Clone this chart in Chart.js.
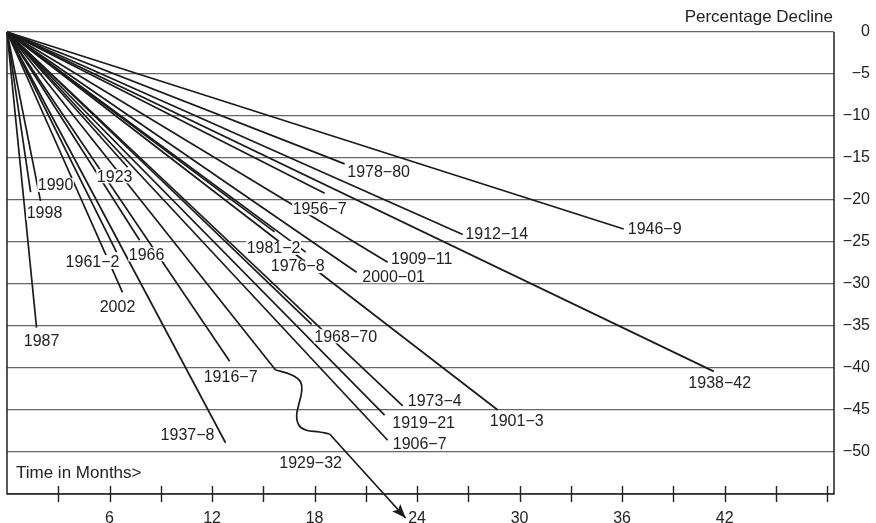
<!DOCTYPE html>
<html>
<head>
<meta charset="utf-8">
<title>Bear market declines</title>
<script src="https://cdn.jsdelivr.net/npm/chart.js@4.4.0/dist/chart.umd.min.js"></script>
<style>
  html, body { margin: 0; padding: 0; background: #fff; }
  #wrap { width: 876px; height: 523px; }
</style>
</head>
<body>
<div id="wrap"><canvas id="decline-chart" width="876" height="523"></canvas></div>
<script>
// Each decline is a straight line from the start (0 months, 0%)
// to its end point: months taken, percentage decline
const periods = ['1978−80', '1946−9', '1912−14', '1938−42', '1956−7', '1909−11',
                 '2000−01', '1981−2', '1976−8', '1901−3', '1968−70', '1973−4',
                 '1919−21', '1906−7', '1916−7', '1937−8', '1961−2', '2002',
                 '1966', '1923', '1990', '1998', '1987'];
const endMonths = [19.76, 36.09, 26.67, 41.36, 18.59, 22.28,
                   20.46, 15.66, 17.48, 28.72, 17.83, 23.16,
                   22.10, 22.28, 13.03, 12.79, 6.41, 6.76,
                   7.76, 7.06, 1.38, 1.96, 1.73];
const endDeclines = [-15.7, -23.45, -24.1, -40.4, -19.2, -27.4,
                     -28.6, -23.8, -26.2, -45.0, -34.8, -44.5,
                     -45.6, -48.6, -39.2, -48.9, -26.2, -31.0,
                     -24.8, -16.1, -19.05, -20.1, -35.2];

// 1929-32 goes off the bottom of the chart: straight, a squiggle, then an arrow
const crashName = '1929−32';
const crashMonths = [0, 15.72, 16.66, 17.18, 17.24, 17.07, 16.95, 17.07, 17.48, 18.30, 18.88, 23.33];
const crashDeclines = [0, -40.24, -40.83, -41.67, -42.86, -44.40, -45.71, -46.79, -47.38, -47.62, -47.86, -57.86];

// axis ticks
const yTicks = [0, -5, -10, -15, -20, -25, -30, -35, -40, -45, -50];
const xTickMonths = [3, 6, 9, 12, 15, 18, 21, 24, 27, 30, 33, 36, 39, 42, 45, 48];
const xLabelMonths = [6, 12, 18, 24, 30, 36, 42];

// where each label sits, from its line end (px)
const labelOffsets = [[34, 8], [31, 0], [34, -1], [6, 11], [-5, 15], [34, -4],
                      [37, 4], [-1, 16], [-8, 14], [19, 11], [34, 12], [32, -5],
                      [39, 8], [32, 3], [1, 15], [-38, -8], [-24, 10], [-5, 14],
                      [7, 14], [-13, 9], [25, -7], [4, 12], [5, 13]];
const crashLabelOffset = [-19, 29];

const LINE = '#1a1a1a';
const FAMILY = '"Liberation Sans", Arial, sans-serif';
const LABEL_FONT = '16px ' + FAMILY;
const CAPTION_FONT = '17px ' + FAMILY;

function pathOf(months, declines, from, to) {
  const pts = [];
  for (let i = from; i <= to; i++) pts.push({x: months[i], y: declines[i]});
  return pts;
}

const datasets = periods.map((name, i) => ({
  label: name,
  data: [{x: 0, y: 0}, {x: endMonths[i], y: endDeclines[i]}],
  borderColor: LINE,
  borderWidth: 1.7,
  pointRadius: 0,
  clip: false
}));

const last = crashMonths.length - 1;
datasets.push({
  label: crashName,
  data: pathOf(crashMonths, crashDeclines, 0, 1),
  borderColor: LINE, borderWidth: 1.7, pointRadius: 0, clip: false
});
datasets.push({
  label: crashName + ' squiggle',
  data: pathOf(crashMonths, crashDeclines, 1, last - 1),
  borderColor: LINE, borderWidth: 1.7, pointRadius: 0, tension: 0.45, clip: false
});
datasets.push({
  label: crashName + ' arrow',
  data: pathOf(crashMonths, crashDeclines, last - 1, last),
  borderColor: LINE, borderWidth: 1.7, pointRadius: 0, clip: false
});

// frame, tick marks across the bottom edge, arrowhead and captions
const frame = {
  id: 'frame',
  afterDraw(chart) {
    const {ctx, chartArea: a, scales} = chart;
    ctx.save();
    ctx.strokeStyle = '#222';
    ctx.lineWidth = 1.5;
    ctx.beginPath();
    ctx.moveTo(a.left, a.top);
    ctx.lineTo(a.left, a.bottom);
    ctx.lineTo(a.right, a.bottom);
    ctx.lineTo(a.right, a.top);
    ctx.stroke();

    ctx.lineWidth = 1.4;
    ctx.beginPath();
    xTickMonths.forEach(m => {
      const x = Math.round(scales.x.getPixelForValue(m)) + 0.5;
      ctx.moveTo(x, a.bottom - 8);
      ctx.lineTo(x, a.bottom + 8);
    });
    ctx.stroke();

    // arrowhead on the end of 1929-32
    const pts = chart.getDatasetMeta(periods.length + 2).data;
    const p0 = pts[0], p1 = pts[1];
    const ang = Math.atan2(p1.y - p0.y, p1.x - p0.x);
    ctx.save();
    ctx.translate(p1.x, p1.y);
    ctx.rotate(ang);
    ctx.fillStyle = LINE;
    ctx.beginPath();
    ctx.moveTo(0, 0);
    ctx.lineTo(-14, -5.5);
    ctx.lineTo(-11, 0);
    ctx.lineTo(-14, 5.5);
    ctx.closePath();
    ctx.fill();
    ctx.restore();

    ctx.fillStyle = '#222';
    ctx.font = CAPTION_FONT;
    ctx.textBaseline = 'middle';
    ctx.textAlign = 'right';
    ctx.fillText('Percentage Decline', a.right - 1, 17);
    ctx.textAlign = 'left';
    ctx.fillText('Time in Months>', 16, 473);
    ctx.restore();
  }
};

function drawLabel(ctx, text, px, py, off) {
  const cx = px + off[0], cy = py + off[1];
  const w = ctx.measureText(text).width + 1;
  ctx.fillStyle = '#fff';
  ctx.fillRect(cx - w / 2, cy - 7, w, 14);
  ctx.fillStyle = '#222';
  ctx.fillText(text, cx, cy + 1);
}

const endLabels = {
  id: 'endLabels',
  afterDatasetsDraw(chart) {
    const ctx = chart.ctx;
    ctx.save();
    ctx.font = LABEL_FONT;
    ctx.textAlign = 'center';
    ctx.textBaseline = 'middle';
    periods.forEach((name, i) => {
      const pt = chart.getDatasetMeta(i).data[1];
      drawLabel(ctx, name, pt.x, pt.y, labelOffsets[i]);
    });
    const arrowMeta = chart.getDatasetMeta(periods.length + 2);
    drawLabel(ctx, crashName, arrowMeta.data[0].x, arrowMeta.data[0].y, crashLabelOffset);
    ctx.restore();
  }
};

new Chart(document.getElementById('decline-chart'), {
  type: 'line',
  data: {datasets: datasets},
  options: {
    responsive: false,
    animation: false,
    events: [],
    layout: {padding: {left: 7, top: 32, right: 6, bottom: 0}},
    plugins: {legend: {display: false}, tooltip: {enabled: false}},
    scales: {
      x: {
        type: 'linear',
        min: 0,
        max: 48.4,
        grid: {display: false, drawTicks: false},
        border: {display: false},
        afterBuildTicks: scale => {
          scale.ticks = xLabelMonths.map(v => ({value: v}));
        },
        afterFit: scale => { scale.height = 29; },
        ticks: {
          autoSkip: false,
          maxRotation: 0,
          padding: 15,
          color: '#222',
          font: {family: FAMILY, size: 16}
        }
      },
      y: {
        type: 'linear',
        position: 'right',
        min: -55,
        max: 0,
        afterBuildTicks: scale => {
          scale.ticks = yTicks.concat([-55]).map(v => ({value: v}));
        },
        afterFit: scale => { scale.width = 36; },
        grid: {color: '#666', lineWidth: 1.2, drawTicks: false},
        border: {display: false},
        ticks: {
          crossAlign: 'far',
          padding: 2,
          color: '#222',
          font: {family: FAMILY, size: 16},
          callback: v => v === -55 ? '' : (v === 0 ? '0' : '\u2212' + Math.abs(v))
        }
      }
    }
  },
  plugins: [frame, endLabels]
});
</script>
</body>
</html>
